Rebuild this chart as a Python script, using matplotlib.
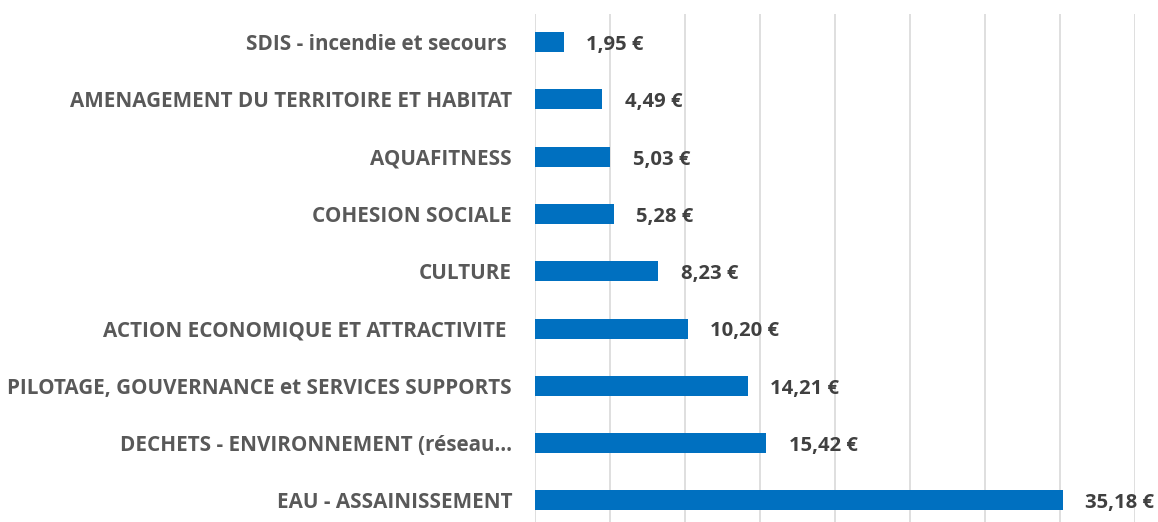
import matplotlib
matplotlib.use("Agg")
import matplotlib.pyplot as plt

categories = [
    "EAU - ASSAINISSEMENT",
    "DECHETS - ENVIRONNEMENT (réseau…",
    "PILOTAGE, GOUVERNANCE et SERVICES SUPPORTS",
    "ACTION ECONOMIQUE ET ATTRACTIVITE ",
    "CULTURE",
    "COHESION SOCIALE",
    "AQUAFITNESS",
    "AMENAGEMENT DU TERRITOIRE ET HABITAT",
    "SDIS - incendie et secours ",
]
values = [35.18, 15.42, 14.21, 10.20, 8.23, 5.28, 5.03, 4.49, 1.95]
value_labels = ["35,18 €", "15,42 €", "14,21 €", "10,20 €", "8,23 €",
                "5,28 €", "5,03 €", "4,49 €", "1,95 €"]

plt.rcParams['font.family'] = ['Open Sans', 'DejaVu Sans']

fig = plt.figure(figsize=(11.58, 5.22), dpi=100)
ax = fig.add_axes([535/1158, -0.0134, 600/1158, 0.974 + 0.0134])

y = list(range(len(categories)))
ax.barh(y, values, height=0.35, color="#0070C0", zorder=3)
ax.set_xlim(0, 40)
ax.set_ylim(-0.5, len(categories) - 0.5)
ax.set_xticks(range(0, 41, 5))
ax.xaxis.grid(True, color="#D9D9D9", linewidth=1.2, zorder=0)
ax.tick_params(axis='x', labelbottom=False, length=0)
ax.tick_params(axis='y', length=0, pad=16.5)
ax.set_yticks(y)
ax.set_yticklabels(categories, fontsize=14.9, fontweight='bold', color="#595959")
for s in ax.spines.values():
    s.set_visible(False)

for yi, v, lab in zip(y, values, value_labels):
    ax.annotate(lab, (v, yi), xytext=(16, -2), textcoords='offset points',
                ha='left', va='center', fontsize=14.6, fontweight='bold',
                color="#404040")

fig.savefig("out.png", dpi=100)
